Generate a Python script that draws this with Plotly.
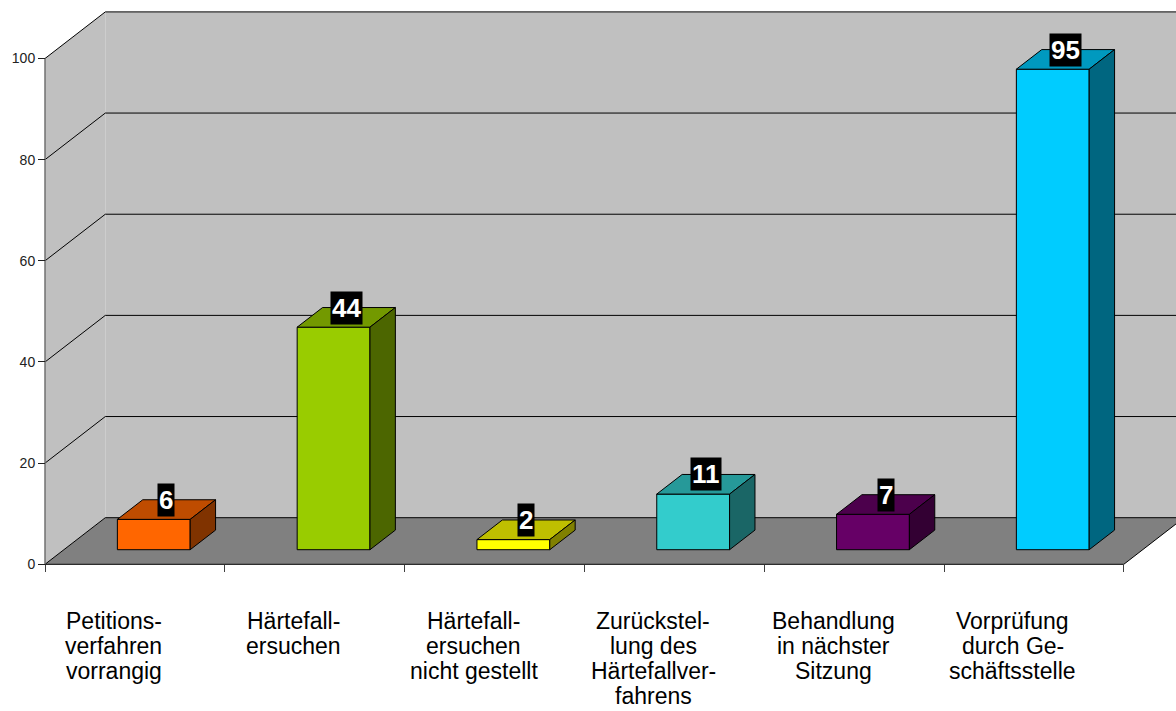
import plotly.graph_objects as go

# ---- data ----
categories = [
    ["Petitions-", "verfahren", "vorrangig"],
    ["Härtefall-", "ersuchen"],
    ["Härtefall-", "ersuchen", "nicht gestellt"],
    ["Zurückstel-", "lung des", "Härtefallver-", "fahrens"],
    ["Behandlung", "in nächster", "Sitzung"],
    ["Vorprüfung", "durch Ge-", "schäftsstelle"],
]
values = [6, 44, 2, 11, 7, 95]
colors = ["#FF6600", "#99CC00", "#FFFF00", "#33CCCC", "#660066", "#00CCFF"]
y_ticks = [0, 20, 40, 60, 80, 100]

# ---- geometry (3D oblique projection in data units) ----
C = 179.8   # px per category
S = 5.058   # px per value unit
X0PX = 45.0
Y0PX = 564.3
W, H = 1176, 711
DX = 60.3 / C      # depth shift in category units
DY = 46.6 / S      # depth shift in value units
ZF, ZB = 0.313, 0.734
HALF = 0.2025
NC = len(values)
VMAX = max(y_ticks)


def P(x, v, z):
    return x + z * DX, v + z * DY


def shade(hexc, f):
    r, g, b = int(hexc[1:3], 16), int(hexc[3:5], 16), int(hexc[5:7], 16)
    return "rgb(%d,%d,%d)" % (round(r * f), round(g * f), round(b * f))


fig = go.Figure()


def poly(pts, fill, line_color=None, width=1.0):
    xs = [p[0] for p in pts] + [pts[0][0]]
    ys = [p[1] for p in pts] + [pts[0][1]]
    fig.add_trace(go.Scatter(
        x=xs, y=ys, mode="lines", fill="toself", fillcolor=fill,
        line=dict(color=line_color or fill, width=width if line_color else 0),
        hoverinfo="skip", showlegend=False))


def polyline(segs, color, width=1.0):
    xs, ys = [], []
    for seg in segs:
        for p in seg:
            xs.append(p[0]); ys.append(p[1])
        xs.append(None); ys.append(None)
    fig.add_trace(go.Scatter(x=xs, y=ys, mode="lines",
                             line=dict(color=color, width=width),
                             hoverinfo="skip", showlegend=False))


# walls
poly([P(0, 0, 0), P(0, 0, 1), P(0, VMAX, 1), P(0, VMAX, 0)], "#C0C0C0")
poly([P(0, 0, 1), P(NC, 0, 1), P(NC, VMAX, 1), P(0, VMAX, 1)], "#C0C0C0")
# floor
poly([P(0, 0, 0), P(NC, 0, 0), P(NC, 0, 1), P(0, 0, 1)], "#808080", "#000000", 1)
# gridlines
polyline([[P(0, v, 0), P(0, v, 1), P(NC, v, 1)] for v in y_ticks if v > 0], "#000000", 1)
# left axis line
polyline([[P(0, 0, 0), P(0, VMAX, 0)]], "#707070", 1.5)

# bars
for i, (v, c) in enumerate(zip(values, colors)):
    x0, x1 = i + 0.5 - HALF, i + 0.5 + HALF
    poly([P(x0, 0, ZF), P(x1, 0, ZF), P(x1, v, ZF), P(x0, v, ZF)], c, "#000000", 1)
    poly([P(x0, v, ZF), P(x1, v, ZF), P(x1, v, ZB), P(x0, v, ZB)], shade(c, 0.75), "#000000", 1)
    poly([P(x1, 0, ZF), P(x1, 0, ZB), P(x1, v, ZB), P(x1, v, ZF)], shade(c, 0.5), "#000000", 1)

# data labels
for i, v in enumerate(values):
    lx = i + 0.5 + DX * (ZF + ZB) / 2
    ly = v + ZB * DY
    fig.add_annotation(x=lx, y=ly, text=str(v), showarrow=False,
                       xanchor="center", yanchor="middle",
                       font=dict(family="Liberation Sans", size=26, color="white", weight="bold"),
                       bgcolor="black", borderpad=1)

# category labels
for i, lines in enumerate(categories):
    for k, t in enumerate(lines):
        fig.add_annotation(x=i + 0.5, y=0, text=t, showarrow=False,
                           xanchor="center", yanchor="middle",
                           xshift=-21, yshift=-(56.7 + 25 * k),
                           font=dict(family="Liberation Sans", size=23, color="black"))

xr = [-X0PX / C, (W - X0PX) / C]
yr = [-(H - Y0PX) / S, Y0PX / S]

fig.update_layout(
    width=W, height=H,
    margin=dict(l=0, r=0, t=0, b=0, pad=0),
    paper_bgcolor="white", plot_bgcolor="white",
    showlegend=False,
    xaxis=dict(range=xr, showgrid=False, zeroline=False, showline=False,
               tickmode="array", tickvals=list(range(NC + 1)), showticklabels=False,
               ticks="outside", ticklen=7, tickwidth=1, tickcolor="#404040",
               anchor="free", position=(H - Y0PX) / H, automargin=False, fixedrange=True),
    yaxis=dict(range=yr, showgrid=False, zeroline=False, showline=False,
               tickmode="array", tickvals=y_ticks, ticktext=[str(t) for t in y_ticks],
               ticks="outside", ticklen=7, tickwidth=1, tickcolor="#202020",
               tickfont=dict(family="Liberation Sans", size=14, color="#222222"),
               anchor="free", position=X0PX / W, automargin=False, fixedrange=True),
)

fig.write_html("out.html",
               config={"displayModeBar": False},
               post_script="document.body.style.margin='0';document.body.style.overflow='hidden';")
